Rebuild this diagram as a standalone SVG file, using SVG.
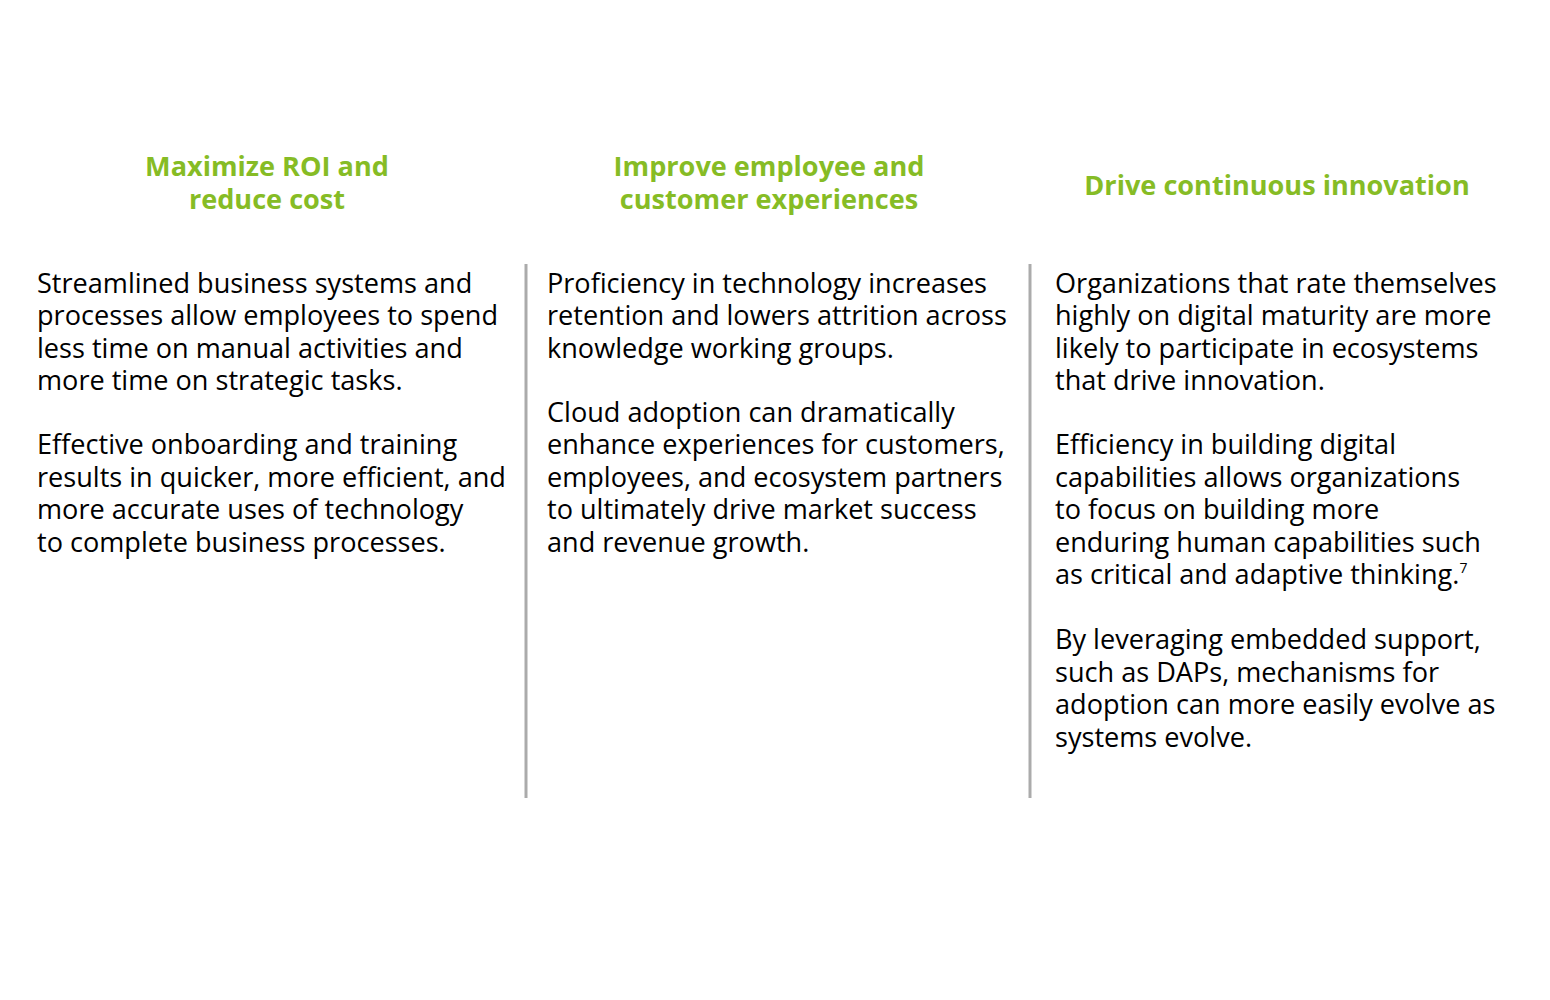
<svg xmlns="http://www.w3.org/2000/svg" width="1550" height="1000" viewBox="0 0 1550 1000">
<style>
.h{font-family:"Open Sans","Liberation Sans",sans-serif;font-weight:bold;font-size:27.1px;fill:#86BC25;text-anchor:middle}
.b{font-family:"Open Sans","Liberation Sans",sans-serif;font-size:27.1px;fill:#000}
.d{stroke:#ABABAB;stroke-width:3}
</style>
<rect width="1550" height="1000" fill="#fff"/>
<g id="connectors">
<line class="d" x1="526" y1="264" x2="526" y2="798"/>
<line class="d" x1="1030" y1="264" x2="1030" y2="798"/>
</g>
<g id="col1">
<text class="h" x="267" y="176">Maximize ROI and</text>
<text class="h" x="267" y="209">reduce cost</text>
<text class="b" x="37" y="292.5">Streamlined business systems and</text>
<text class="b" x="37" y="325">processes allow employees to spend</text>
<text class="b" x="37" y="357.5">less time on manual activities and</text>
<text class="b" x="37" y="390">more time on strategic tasks.</text>
<text class="b" x="37" y="454">Effective onboarding and training</text>
<text class="b" x="37" y="486.5">results in quicker, more efficient, and</text>
<text class="b" x="37" y="519">more accurate uses of technology</text>
<text class="b" x="37" y="551.5">to complete business processes.</text>
</g>
<g id="col2">
<text class="h" x="769" y="176">Improve employee and</text>
<text class="h" x="769" y="209">customer experiences</text>
<text class="b" x="547" y="292.5">Proficiency in technology increases</text>
<text class="b" x="547" y="325">retention and lowers attrition across</text>
<text class="b" x="547" y="357.5">knowledge working groups.</text>
<text class="b" x="547" y="421.5">Cloud adoption can dramatically</text>
<text class="b" x="547" y="454">enhance experiences for customers,</text>
<text class="b" x="547" y="486.5">employees, and ecosystem partners</text>
<text class="b" x="547" y="519">to ultimately drive market success</text>
<text class="b" x="547" y="551.5">and revenue growth.</text>
</g>
<g id="col3">
<text class="h" x="1277" y="195">Drive continuous innovation</text>
<text class="b" x="1055" y="292.5">Organizations that rate themselves</text>
<text class="b" x="1055" y="325">highly on digital maturity are more</text>
<text class="b" x="1055" y="357.5">likely to participate in ecosystems</text>
<text class="b" x="1055" y="390">that drive innovation.</text>
<text class="b" x="1055" y="454">Efficiency in building digital</text>
<text class="b" x="1055" y="486.5">capabilities allows organizations</text>
<text class="b" x="1055" y="519">to focus on building more</text>
<text class="b" x="1055" y="551.5">enduring human capabilities such</text>
<text class="b" x="1055" y="584">as critical and adaptive thinking.<tspan font-size="14" dy="-11">7</tspan></text>
<text class="b" x="1055" y="649">By leveraging embedded support,</text>
<text class="b" x="1055" y="681.5">such as DAPs, mechanisms for</text>
<text class="b" x="1055" y="714">adoption can more easily evolve as</text>
<text class="b" x="1055" y="746.5">systems evolve.</text>
</g>
</svg>
